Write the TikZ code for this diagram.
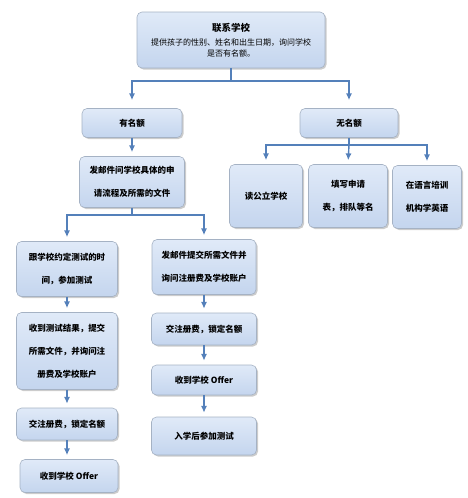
\documentclass[tikz,border=0pt]{standalone}
\usepackage{fontspec}
\setmainfont{Noto Sans CJK SC}
\usepackage{xcolor}
\usetikzlibrary{arrows.meta,shadows,positioning}
\definecolor{BoxTop}{RGB}{224,234,248}
\definecolor{BoxBottom}{RGB}{196,213,238}
\definecolor{EdgeGray}{RGB}{165,178,196}
\definecolor{FlowBlue}{RGB}{84,128,186}

\tikzset{
    stepbox/.style={draw=EdgeGray, line width=0.6pt, rounded corners=5pt,
        top color=BoxTop, bottom color=BoxBottom,
        drop shadow={opacity=0.4, shadow xshift=1.5pt, shadow yshift=-1.5pt},
        align=center, inner sep=2pt,
        font=\bfseries\fontsize{8.5}{23}\selectfont},
    link/.style={FlowBlue, line width=1.4pt},
    flow/.style={link, -{Latex[length=2.4mm, width=2.2mm]}, shorten >=4pt},
}

\begin{document}
\begin{tikzpicture}[x=1pt, y=-1pt]
    \useasboundingbox (0,0) rectangle (468,498);
    % top of the tree
    \node[stepbox, minimum width=188pt, minimum height=56pt,
          font=\mdseries\fontsize{8}{11}\selectfont] (contact) at (231,40)
        {{\bfseries\fontsize{9.5}{12}\selectfont 联系学校}\\[3pt]
         提供孩子的性别、姓名和出生日期，询问学校\\是否有名额。};
    \node[stepbox, minimum width=100pt, minimum height=29pt] (quota) at (132,123) {有名额};
    \node[stepbox, minimum width=98pt, minimum height=29pt] (noquota) at (349,123) {无名额};
    \node[stepbox, minimum width=105pt, minimum height=51pt] (ask) at (132,182)
        {发邮件问学校具体的申\\请流程及所需的文件};
    % no quota
    \node[stepbox, minimum width=73pt, minimum height=63pt] (public) at (266,196) {读公立学校};
    \node[stepbox, minimum width=79pt, minimum height=63pt] (apply) at (348,196)
        {填写申请\\表，排队等名};
    \node[stepbox, minimum width=69pt, minimum height=63pt] (lang) at (427,197)
        {在语言培训\\机构学英语};
    % left column
    \node[stepbox, minimum width=101pt, minimum height=55pt] (test) at (67,269)
        {跟学校约定测试的时\\间，参加测试};
    \node[stepbox, minimum width=101pt, minimum height=77pt] (result) at (67,351)
        {收到测试结果，提交\\所需文件，并询问注\\册费及学校账户};
    \node[stepbox, minimum width=101pt, minimum height=32pt] (payleft) at (67,424)
        {交注册费，锁定名额};
    \node[stepbox, minimum width=98pt, minimum height=33pt] (offerleft) at (69,476)
        {收到学校 Offer};
    % right column
    \node[stepbox, minimum width=104pt, minimum height=55pt] (send) at (204,267)
        {发邮件提交所需文件并\\询问注册费及学校账户};
    \node[stepbox, minimum width=105pt, minimum height=32pt] (payright) at (204,329)
        {交注册费，锁定名额};
    \node[stepbox, minimum width=105pt, minimum height=30pt] (offerright) at (204,380)
        {收到学校 Offer};
    \node[stepbox, minimum width=105pt, minimum height=38pt] (enrol) at (204,436)
        {入学后参加测试};

    % branch points
    \coordinate (split1) at (231,81);
    \coordinate (split2) at (349,145);
    \coordinate (split3) at (132,215);

    \draw[link] (contact.south) -- (split1);
    \draw[flow, shorten >=8pt] (split1) -| (quota.north);
    \draw[flow, shorten >=8pt] (split1) -| (noquota.north);
    \draw[flow] (quota.south) -- (ask.north);

    \draw[link] (noquota.south) -- (split2);
    \draw[flow] (split2) -| (public.north);
    \draw[flow] (split2) -- (apply.north |- public.north);
    \draw[flow] (split2) -| (lang.north);

    \draw[link] (ask.south) -- (split3);
    \draw[flow] (split3) -| (test.north);
    \draw[flow] (split3) -| (send.north);

    \draw[flow] (test) -- (result);
    \draw[flow] (result) -- (payleft);
    \draw[flow] (payleft) -- (offerleft.north -| payleft.south);

    \draw[flow] (send) -- (payright);
    \draw[flow] (payright) -- (offerright);
    \draw[flow] (offerright) -- (enrol);
\end{tikzpicture}
\end{document}
